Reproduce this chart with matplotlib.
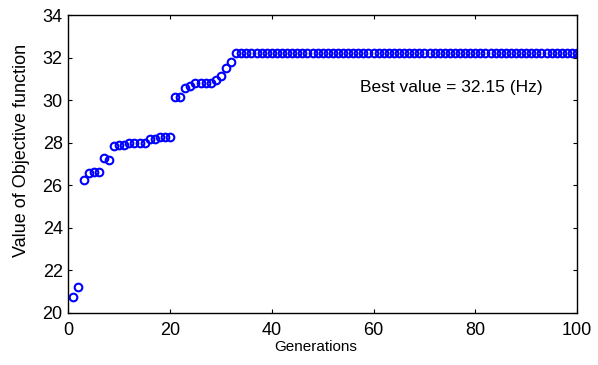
import matplotlib
matplotlib.use('Agg')
import matplotlib.pyplot as plt

plt.rcParams['font.family'] = ['Liberation Sans', 'DejaVu Sans']

# best objective value per generation
generations = list(range(1, 101))
early_values = [20.75, 21.22, 26.23, 26.56, 26.64, 26.60, 27.27, 27.18, 27.84, 27.90,
                27.90, 27.96, 27.96, 27.96, 27.96, 28.17, 28.17, 28.28, 28.28, 28.28,
                30.14, 30.14, 30.58, 30.68, 30.80, 30.80, 30.80, 30.80, 30.93, 31.12,
                31.49, 31.81]
best_value = 32.2
values = early_values + [best_value] * (len(generations) - len(early_values))

xticks = [0, 20, 40, 60, 80, 100]
yticks = [20, 22, 24, 26, 28, 30, 32, 34]

fig = plt.figure(figsize=(5.98, 3.65), dpi=100)
ax = fig.add_axes([0.1142, 0.1433, 0.8508, 0.8156])

ax.plot(generations, values, 'o', mfc='none', mec='#0000ff', mew=1.5, ms=5.5)

ax.set_xlim(0, 100)
ax.set_ylim(20, 34)
ax.set_xticks(xticks)
ax.set_yticks(yticks)
ax.tick_params(direction='in', length=3, width=0.8, labelsize=13,
               top=True, right=True)
ax.tick_params(axis='x', pad=7)
ax.tick_params(axis='y', pad=4)
for s in ax.spines.values():
    s.set_linewidth(1.0)

xl = ax.set_xlabel('Generations', fontsize=11)
ax.xaxis.set_label_coords(0.4866, -0.115)
xl.set_va('center')
yl = ax.set_ylabel('Value of Objective function', fontsize=13)
ax.yaxis.set_label_coords(-0.091, 0.546)
yl.set_va('center')
yl.set_ha('center')
yl.set_rotation_mode('default')

ax.text(57.35, 30.6, 'Best value = 32.15 (Hz)', fontsize=12.5, va='center')

fig.savefig('out.png', dpi=100)
